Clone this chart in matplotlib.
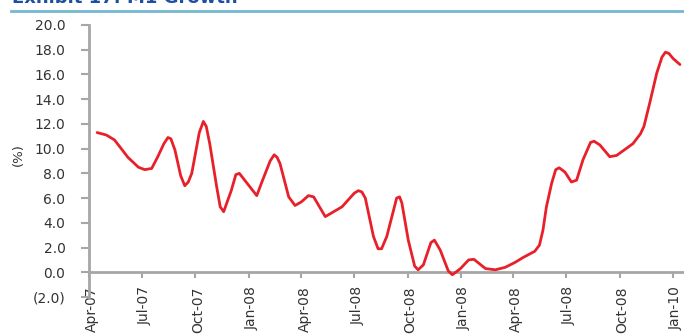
import matplotlib
matplotlib.use("Agg")
import matplotlib.pyplot as plt
from matplotlib.lines import Line2D
import matplotlib.transforms as mtransforms
import pandas as pd

# M1 growth, year-on-year (%)
dates = [
    "2007-04-15", "2007-05-01", "2007-05-15", "2007-06-07", "2007-06-25",
    "2007-07-06", "2007-07-18", "2007-07-28", "2007-08-08", "2007-08-15",
    "2007-08-20", "2007-08-27", "2007-09-06", "2007-09-13", "2007-09-19",
    "2007-09-25", "2007-10-08", "2007-10-15", "2007-10-20", "2007-10-26",
    "2007-11-07", "2007-11-13", "2007-11-19", "2007-12-02", "2007-12-10",
    "2007-12-16", "2007-12-26", "2008-01-15", "2008-01-23", "2008-02-07",
    "2008-02-14", "2008-02-19", "2008-02-24", "2008-03-10", "2008-03-21",
    "2008-04-01", "2008-04-13", "2008-04-22", "2008-05-12", "2008-06-10",
    "2008-07-01", "2008-07-08", "2008-07-14", "2008-07-20", "2008-08-03",
    "2008-08-11", "2008-08-17", "2008-08-26", "2008-09-12", "2008-09-17",
    "2008-09-21", "2008-10-02", "2008-10-13", "2008-10-19", "2008-10-28",
    "2008-11-10", "2008-11-16", "2008-11-26", "2008-12-10", "2008-12-17",
    "2008-12-31", "2009-01-14", "2009-01-23", "2009-02-12", "2009-03-01",
    "2009-03-18", "2009-04-04", "2009-04-18", "2009-05-08", "2009-05-16",
    "2009-05-22", "2009-05-28", "2009-06-06", "2009-06-13", "2009-06-19",
    "2009-06-29", "2009-07-10", "2009-07-19", "2009-07-30", "2009-08-12",
    "2009-08-18", "2009-08-28", "2009-09-14", "2009-09-26", "2009-10-24",
    "2009-11-06", "2009-11-12", "2009-11-22", "2009-12-04", "2009-12-13",
    "2009-12-19", "2009-12-25", "2010-01-01", "2010-01-13",
]
growth = [
    11.3, 11.1, 10.7, 9.3, 8.5,
    8.3, 8.4, 9.3, 10.4, 10.9,
    10.8, 9.9, 7.8, 7.0, 7.3,
    8.0, 11.3, 12.2, 11.8, 10.4,
    6.9, 5.3, 4.9, 6.6, 7.9,
    8.0, 7.4, 6.2, 7.2, 9.0,
    9.5, 9.3, 8.8, 6.1, 5.4,
    5.7, 6.2, 6.1, 4.5, 5.3,
    6.4, 6.6, 6.5, 6.0, 2.9,
    1.9, 1.9, 2.9, 6.0, 6.1,
    5.6, 2.6, 0.5, 0.2, 0.6,
    2.4, 2.6, 1.8, 0.1, -0.2,
    0.3, 1.0, 1.05, 0.3, 0.2,
    0.4, 0.8, 1.2, 1.7, 2.2,
    3.4, 5.3, 7.2, 8.3, 8.45,
    8.1, 7.3, 7.45, 9.1, 10.5,
    10.6, 10.3, 9.35, 9.45, 10.4,
    11.2, 11.8, 13.7, 16.1, 17.4,
    17.8, 17.7, 17.3, 16.8,
]

tick_dates = [
    "2007-04-01", "2007-07-01", "2007-10-01", "2008-01-01", "2008-04-01",
    "2008-07-01", "2008-10-01", "2009-01-01", "2009-04-01", "2009-07-01",
    "2009-10-01", "2010-01-01",
]
tick_labels = [
    "Apr-07", "Jul-07", "Oct-07", "Jan-08", "Apr-08", "Jul-08", "Oct-08",
    "Jan-08", "Apr-08", "Jul-08", "Oct-08", "Jan-10",
]
y_ticks = [-2, 0, 2, 4, 6, 8, 10, 12, 14, 16, 18, 20]
y_labels = ["(2.0)"] + [f"{v:.1f}" for v in y_ticks[1:]]

title = "Exhibit 17: M1 Growth"

plt.rcParams["font.family"] = ["DejaVu Sans"]

W, H = 684, 334
fig = plt.figure(figsize=(W / 100, H / 100), dpi=100)

axis_grey = "#a6a6a6"
text_col = "#333333"

# Axes rectangle: left at x=89px, data 20 at y=25px, data -2 at y=297px
ax = fig.add_axes([89 / W, 1 - 297 / H, 1 - 89 / W, (297 - 25) / H])

x = pd.to_datetime(dates)
ax.plot(x, growth, color="#e8202a", lw=2.0, solid_joinstyle="round",
        solid_capstyle="round", antialiased=True, zorder=3)

start = pd.Timestamp("2007-04-01")
ax.set_xlim(start, pd.Timestamp("2010-01-20"))
ax.set_ylim(-2, 20)

for s in ["top", "right"]:
    ax.spines[s].set_visible(False)
ax.spines["left"].set_color(axis_grey)
ax.spines["left"].set_linewidth(2.0)
ax.spines["bottom"].set_position(("data", 0))
ax.spines["bottom"].set_color(axis_grey)
ax.spines["bottom"].set_linewidth(2.0)

ax.set_yticks(y_ticks)
ax.set_yticklabels(y_labels)
ax.tick_params(axis="y", direction="out", length=6, width=1.5,
               color=axis_grey, pad=11, labelsize=10, labelcolor=text_col)

ax.set_xticks(pd.to_datetime(tick_dates))
ax.set_xticklabels(tick_labels, rotation=90, ha="center", va="top")
ax.tick_params(axis="x", direction="out", length=4, width=1.5,
               color=axis_grey, pad=6, labelsize=10, labelcolor=text_col)
offset = mtransforms.ScaledTranslation(3 / 100, 0, fig.dpi_scale_trans)
for lab in ax.get_xticklabels():
    lab.set_transform(lab.get_transform() + offset)

fig.text(18 / W, 1 - 155 / H, "(%)", rotation=90, ha="center", va="center",
         fontsize=9.5, color=text_col)

# Header: title (runs off the top edge) and blue rule
fig.text(12 / W, 1 - 3 / H, title, ha="left", va="baseline", fontsize=13,
         fontweight="bold", color="#1f4fa0")
fig.add_artist(Line2D([11 / W, 1.0], [1 - 10.5 / H, 1 - 10.5 / H],
                      transform=fig.transFigure, color="#74b9d3", lw=2.0))

fig.savefig("out.png", dpi=100)
